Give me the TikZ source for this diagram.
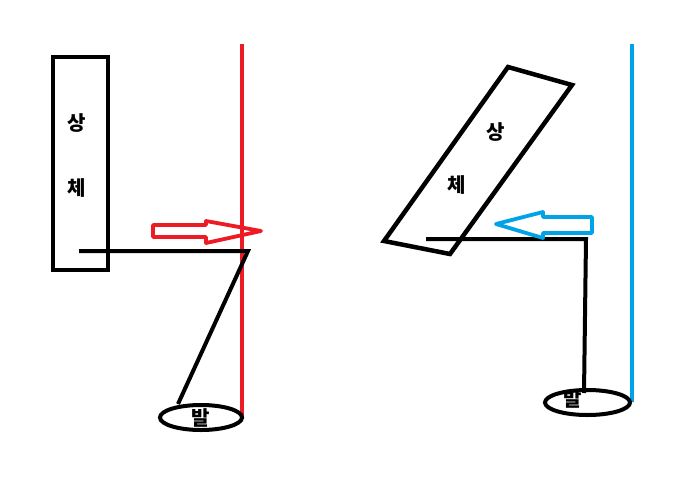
\documentclass[tikz,border=0pt]{standalone}
\usepackage{fontspec}
\newfontfamily\kr{Noto Sans CJK KR}
\definecolor{pred}{HTML}{ED1C24}
\definecolor{pblue}{HTML}{00A2E8}
\begin{document}
\begin{tikzpicture}[x=1pt,y=-1pt,
  blk/.style={draw=black,line width=4pt},
  body/.style={draw=black,line width=4.5pt,line join=miter},
  wall/.style={line width=4pt},
  hollow/.style={line width=3.8pt,line join=round},
  lbl/.style={font=\kr\bfseries\fontsize{20}{20}\selectfont,inner sep=0pt}]
\useasboundingbox (0,0) rectangle (696,496);
% ---- left figure ----
\draw[body] (53,57) rectangle (108,270);
\node[lbl] (s1) at (77,123) {상};
\node[lbl] (c1) at (77,188) {체};
\draw[wall,pred] (242,44) -- (242,419);
\coordinate (hipL) at (248,251);
\coordinate (trL) at (79,251);
\coordinate (ftL) at (178,404);
\draw[blk] (trL) -- (hipL) -- (ftL);
\draw[blk,line width=4pt] (201,417.5) ellipse [x radius=41,y radius=12.5];
\node[lbl] (b1) at (201,418) {발};
\draw[hollow,pred] (153,225) -- (206,225) -- (206,221) -- (261,231) -- (206,243) -- (206,237) -- (153,237) -- cycle;
% ---- right figure ----
\draw[body] (508,67) -- (572,85) -- (450,254) -- (384,241) -- cycle;
\node[lbl] (s2) at (496,132) {상};
\node[lbl] (c2) at (457,185) {체};
\draw[wall,pblue] (632,44) -- (632,402);
\coordinate (trR) at (426,239);
\coordinate (hipR) at (586,239);
\coordinate (ftR) at (584,393);
\draw[blk] (trR) -- (hipR) -- (ftR);
\draw[blk] (587.5,402.5) ellipse [x radius=42.5,y radius=12.5];
\node[lbl] (b2) at (573,399) {발};
\draw[hollow,pblue] (592,217) -- (543,217) -- (543,212) -- (496,224) -- (543,238) -- (543,233) -- (592,233) -- cycle;
\end{tikzpicture}
\end{document}
